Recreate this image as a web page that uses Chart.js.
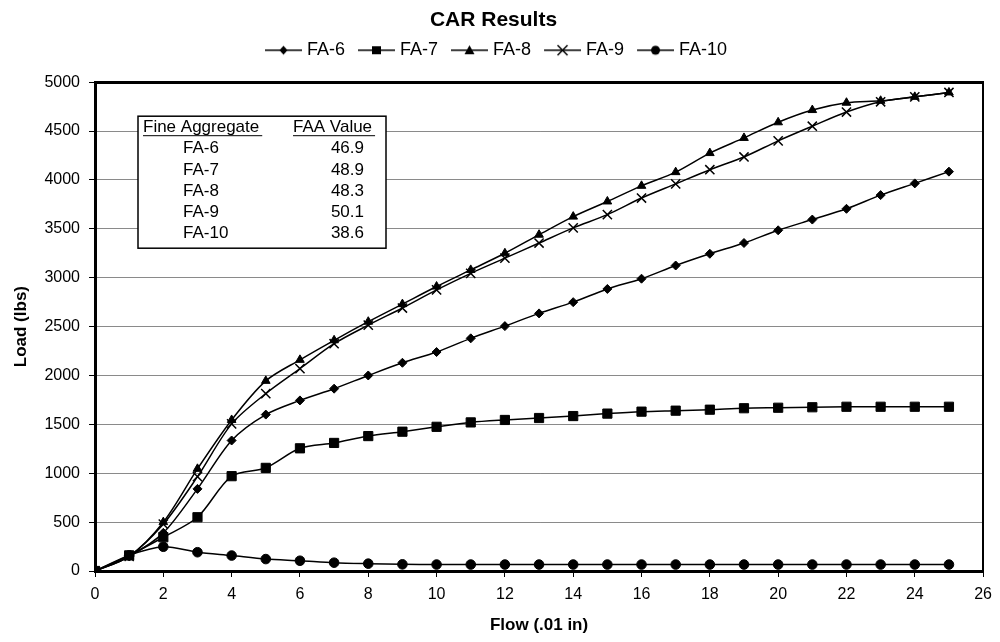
<!DOCTYPE html>
<html>
<head>
<meta charset="utf-8">
<title>CAR Results</title>
<script src="https://cdn.jsdelivr.net/npm/chart.js@4.4.1/dist/chart.umd.min.js"></script>
<style>
  html, body { margin: 0; padding: 0; background: #fff; }
  #wrap { width: 1000px; height: 642px; }
</style>
</head>
<body>
<div id="wrap"><canvas id="chartCar" width="1000" height="642"></canvas></div>
<script>
// flow readings, .01 in
const flow = [0, 1, 2, 3, 4, 5, 6, 7, 8, 9, 10, 11, 12, 13, 14, 15, 16, 17, 18, 19, 20, 21, 22, 23, 24, 25];

// load (lbs) per fine aggregate
const fa6 = [0, 150, 390, 840, 1335, 1600, 1745, 1865, 2000, 2130, 2240, 2380, 2505, 2635, 2750, 2885, 2990, 3125, 3245, 3355, 3485, 3595, 3705, 3845, 3965, 4085];
const fa7 = [0, 160, 345, 550, 970, 1055, 1255, 1310, 1380, 1425, 1475, 1520, 1545, 1565, 1585, 1610, 1630, 1640, 1650, 1665, 1670, 1675, 1680, 1680, 1680, 1680];
const fa8 = [0, 150, 500, 1045, 1545, 1945, 2160, 2360, 2550, 2730, 2910, 3080, 3250, 3440, 3625, 3780, 3940, 4080, 4275, 4430, 4590, 4715, 4790, 4810, 4850, 4895];
const fa9 = [0, 150, 480, 965, 1505, 1815, 2070, 2325, 2515, 2690, 2875, 3045, 3200, 3355, 3510, 3645, 3815, 3960, 4105, 4235, 4400, 4550, 4695, 4800, 4850, 4895];
const fa10 = [0, 160, 248, 192, 158, 122, 105, 85, 75, 68, 66, 66, 66, 66, 66, 66, 66, 66, 66, 66, 66, 66, 66, 66, 66, 66];

const seriesNames = ["FA-6", "FA-7", "FA-8", "FA-9", "FA-10"];

// inset table
const tableNames = ["FA-6", "FA-7", "FA-8", "FA-9", "FA-10"];
const faaValues = ["46.9", "48.9", "48.3", "50.1", "38.6"];

const FONT = "'Liberation Sans', Arial, sans-serif";

// legend sample: short line with the marker in the middle
function legendIcon(style) {
  const c = document.createElement("canvas");
  c.width = 46; c.height = 14;
  const g = c.getContext("2d");
  g.strokeStyle = "#000"; g.fillStyle = "#000"; g.lineWidth = 1.5;
  g.beginPath(); g.moveTo(9, 7); g.lineTo(46, 7); g.stroke();
  const cx = 27.5, cy = 7;
  g.beginPath();
  if (style === "rectRot") {
    g.moveTo(cx, cy - 4.5); g.lineTo(cx + 4, cy); g.lineTo(cx, cy + 4.5); g.lineTo(cx - 4, cy);
    g.closePath(); g.fill();
  } else if (style === "rect") {
    g.fillRect(cx - 4.5, cy - 4, 9, 8);
  } else if (style === "triangle") {
    g.moveTo(cx, cy - 5); g.lineTo(cx + 5, cy + 4); g.lineTo(cx - 5, cy + 4);
    g.closePath(); g.fill();
  } else if (style === "crossRot") {
    g.moveTo(cx - 5, cy - 5); g.lineTo(cx + 5, cy + 5);
    g.moveTo(cx + 5, cy - 5); g.lineTo(cx - 5, cy + 5);
    g.stroke();
  } else {
    g.arc(cx, cy, 4.5, 0, Math.PI * 2); g.fill();
  }
  return c;
}

function makeSeries(label, data, pointStyle, radius) {
  return {
    label,
    data: data.map((v, i) => ({ x: flow[i], y: v })),
    xAxisID: "x",
    yAxisID: "y",
    pointStyle,
    pointRadius: radius,
    pointHoverRadius: radius,
    borderColor: "#000",
    backgroundColor: "#000",
    pointBorderColor: "#000",
    pointBackgroundColor: "#000",
    pointBorderWidth: pointStyle === "crossRot" ? 1.5 : 1,
    borderWidth: 1.5,
    tension: 0.3,
    fill: false
  };
}

const insetTable = {
  id: "insetTable",
  beforeDatasetsDraw(chart) {
    const { ctx, chartArea } = chart;
    const x0 = chartArea.left + 43, y0 = chartArea.top + 34, w = 248, h = 132;
    ctx.save();
    ctx.fillStyle = "#fff";
    ctx.fillRect(x0, y0, w, h);
    ctx.strokeStyle = "#000";
    ctx.lineWidth = 1.5;
    ctx.strokeRect(x0, y0, w, h);
    ctx.fillStyle = "#000";
    ctx.font = "17px " + FONT;
    ctx.textBaseline = "middle";
    ctx.textAlign = "left";
    const heads = [["Fine Aggregate", x0 + 5], ["FAA Value", x0 + 155]];
    heads.forEach(([t, hx]) => {
      ctx.fillText(t, hx, y0 + 11);
      const tw = ctx.measureText(t).width;
      ctx.lineWidth = 1;
      ctx.beginPath();
      ctx.moveTo(hx, y0 + 19.5);
      ctx.lineTo(hx + tw + 3, y0 + 19.5);
      ctx.stroke();
    });
    tableNames.forEach((n, i) => {
      const ry = y0 + 32.5 + i * 21.2;
      ctx.textAlign = "left";
      ctx.fillText(n, x0 + 45, ry);
      ctx.textAlign = "right";
      ctx.fillText(faaValues[i], x0 + 226, ry);
    });
    ctx.restore();
  }
};

const styles = [["rectRot", 4.5], ["rect", 6.5], ["triangle", 5], ["crossRot", 6.5], ["circle", 4.8]];
const seriesData = [fa6, fa7, fa8, fa9, fa10];

const ctx = document.getElementById("chartCar");
new Chart(ctx, {
  type: "line",
  data: {
    datasets: seriesNames.map((n, i) => makeSeries(n, seriesData[i], styles[i][0], styles[i][1]))
  },
  options: {
    responsive: false,
    animation: false,
    layout: { padding: { left: 0, right: 13, top: 0, bottom: 0 } },
    plugins: {
      title: {
        display: true,
        text: "CAR Results",
        color: "#000",
        font: { family: FONT, size: 21, weight: "bold" },
        padding: { top: 8, bottom: 0 }
      },
      legend: {
        position: "top",
        labels: {
          color: "#000",
          font: { family: FONT, size: 18 },
          usePointStyle: true,
          pointStyleWidth: 38,
          padding: 8,
          generateLabels(chart) {
            return chart.data.datasets.map((ds, i) => ({
              text: ds.label,
              pointStyle: legendIcon(ds.pointStyle),
              datasetIndex: i,
              fillStyle: "#000",
              strokeStyle: "#000",
              lineWidth: 0,
              fontColor: "#000",
              hidden: false
            }));
          }
        }
      },
      tooltip: { enabled: false }
    },
    scales: {
      x: {
        type: "linear",
        min: 0,
        max: 26,
        ticks: { stepSize: 2, color: "#000", font: { family: FONT, size: 16 }, padding: 8, maxRotation: 0 },
        grid: { drawOnChartArea: false, tickLength: 6, tickColor: "#000" },
        border: { color: "#000", width: 3 },
        title: {
          display: true,
          text: "Flow (.01 in)",
          color: "#000",
          font: { family: FONT, size: 17, weight: "bold" },
          padding: { top: 4, bottom: 6 }
        },
        afterFit(s) { s.height = 71; }
      },
      // top and right edges of the plot frame
      xTop: {
        type: "linear",
        position: "top",
        min: 0,
        max: 26,
        ticks: { display: false },
        grid: { drawOnChartArea: false, drawTicks: false },
        border: { color: "#000", width: 3 },
        afterFit(s) { s.height = 13; }
      },
      y: {
        min: 0,
        max: 5000,
        ticks: {
          stepSize: 500,
          color: "#000",
          font: { family: FONT, size: 16 },
          padding: 9,
          callback: v => String(v)
        },
        grid: { color: "#8a8a8a", lineWidth: 1, tickLength: 6, tickColor: "#000" },
        border: { color: "#000", width: 3 },
        title: {
          display: true,
          text: "Load (lbs)",
          color: "#000",
          font: { family: FONT, size: 17, weight: "bold" },
          padding: { top: 11, bottom: 4 }
        },
        afterFit(s) { s.width = 95; }
      },
      yRight: {
        position: "right",
        min: 0,
        max: 5000,
        ticks: { display: false },
        grid: { drawOnChartArea: false, drawTicks: false },
        border: { color: "#000", width: 2 },
        afterFit(s) { s.width = 0; }
      }
    }
  },
  plugins: [insetTable]
});
</script>
</body>
</html>
